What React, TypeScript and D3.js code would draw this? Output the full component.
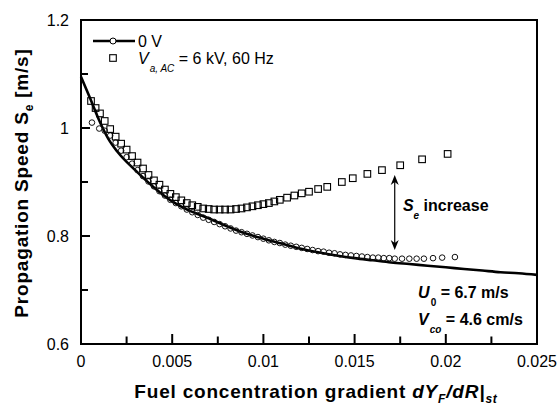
import React from "react";
import * as d3 from "d3";

// ---- data ----
const lineX = [0, 0.0005, 0.001, 0.0015, 0.002, 0.003, 0.004, 0.005, 0.006, 0.007, 0.008, 0.009, 0.01, 0.011, 0.012, 0.013, 0.014, 0.015, 0.016, 0.017, 0.018, 0.019, 0.02, 0.021, 0.022, 0.023, 0.024, 0.025];
const lineY = [1.095, 1.055, 1.014, 0.98, 0.956, 0.921, 0.89, 0.864, 0.846, 0.833, 0.818, 0.805, 0.795, 0.786, 0.777, 0.77, 0.764, 0.759, 0.755, 0.751, 0.748, 0.745, 0.742, 0.739, 0.736, 0.733, 0.731, 0.728];

const circleX = [0.0006, 0.001, 0.0013, 0.0016, 0.0019, 0.0022, 0.0025, 0.0028, 0.0031, 0.0034, 0.0037, 0.004, 0.0043, 0.0046, 0.0049, 0.0052, 0.0055, 0.0058, 0.0061, 0.0064, 0.0067, 0.007, 0.0073, 0.0076, 0.0079, 0.0082, 0.0085, 0.0088, 0.0091, 0.0094, 0.0097, 0.01, 0.0103, 0.0106, 0.0109, 0.0112, 0.0115, 0.0118, 0.0121, 0.0124, 0.0127, 0.013, 0.0133, 0.0136, 0.0139, 0.0142, 0.0145, 0.0148, 0.0151, 0.0154, 0.0157, 0.016, 0.0163, 0.0166, 0.0169, 0.0172, 0.0176, 0.018, 0.0184, 0.0188, 0.0193, 0.0198, 0.0205];
const circleY = [1.01, 0.999, 0.995, 0.986, 0.973, 0.958, 0.946, 0.934, 0.922, 0.911, 0.901, 0.892, 0.883, 0.875, 0.867, 0.861, 0.855, 0.849, 0.844, 0.839, 0.834, 0.83, 0.826, 0.822, 0.818, 0.814, 0.81, 0.807, 0.804, 0.801, 0.798, 0.795, 0.792, 0.789, 0.787, 0.784, 0.782, 0.78, 0.778, 0.776, 0.774, 0.772, 0.771, 0.769, 0.768, 0.766, 0.765, 0.764, 0.763, 0.762, 0.761, 0.76, 0.76, 0.759, 0.759, 0.758, 0.758, 0.758, 0.758, 0.758, 0.759, 0.76, 0.761];

const squareX = [0.00055, 0.0008, 0.00104, 0.0013, 0.0016, 0.0019, 0.0022, 0.0025, 0.0028, 0.0031, 0.0034, 0.0037, 0.004, 0.0043, 0.0046, 0.0049, 0.0052, 0.0055, 0.0058, 0.0061, 0.0064, 0.0067, 0.007, 0.0073, 0.0076, 0.0079, 0.0082, 0.0085, 0.0088, 0.0091, 0.0094, 0.0097, 0.01, 0.0103, 0.0106, 0.0109, 0.0113, 0.0117, 0.0121, 0.0125, 0.013, 0.0135, 0.0143, 0.0149, 0.0157, 0.0165, 0.0175, 0.0187, 0.0201];
const squareY = [1.05, 1.037, 1.027, 1.013, 0.998, 0.984, 0.971, 0.96, 0.948, 0.936, 0.925, 0.913, 0.903, 0.895, 0.886, 0.878, 0.872, 0.866, 0.861, 0.857, 0.854, 0.851, 0.85, 0.849, 0.849, 0.849, 0.849, 0.85, 0.851, 0.853, 0.855, 0.857, 0.859, 0.861, 0.864, 0.867, 0.871, 0.875, 0.879, 0.882, 0.887, 0.891, 0.9, 0.907, 0.915, 0.922, 0.931, 0.942, 0.952];

const xTicks = [0, 0.005, 0.01, 0.015, 0.02, 0.025];
const xTickLabels = ["0", "0.005", "0.01", "0.015", "0.02", "0.025"];
const xMinorTicks = [0.0025, 0.0075, 0.0125, 0.0175, 0.0225];
const yTicks = [0.6, 0.8, 1, 1.2];
const yTickLabels = ["0.6", "0.8", "1", "1.2"];
const yMinorTicks = [0.7, 0.9, 1.1];

const arrowX = 0.0172;
const arrowTop = 0.913;
const arrowBottom = 0.774;

const FONT = "'Liberation Sans', Arial, sans-serif";

export default function App() {
  const W = 558, H = 410;
  const left = 81, right = 537, top = 20, bottom = 344;
  const x = d3.scaleLinear().domain([0, 0.025]).range([left, right]);
  const y = d3.scaleLinear().domain([0.6, 1.2]).range([bottom, top]);

  const linePath = d3.line<number>()
    .x((_, i) => x(lineX[i]))
    .y((d) => y(d))
    .curve(d3.curveMonotoneX)(lineY) || "";

  const ax = x(arrowX);
  const aTop = y(arrowTop);
  const aBot = y(arrowBottom);
  const ah = 10, aw = 4;

  return (
    <svg width={W} height={H} style={{ position: "absolute", left: 0, top: 0, background: "#fff" }} fontFamily={FONT}>
      <rect x={0} y={0} width={W} height={H} fill="#fff" />
      {/* curve */}
      <path d={linePath} fill="none" stroke="#000" strokeWidth={2.6} />
      {/* circles */}
      {circleX.map((cx, i) => (
        <circle key={"c" + i} cx={x(cx)} cy={y(circleY[i])} r={2.8} fill="none" stroke="#111" strokeWidth={1} />
      ))}
      {/* squares */}
      {squareX.map((sx, i) => (
        <rect key={"s" + i} x={x(sx) - 3.3} y={y(squareY[i]) - 3.3} width={6.6} height={6.6} fill="none" stroke="#000" strokeWidth={1.1} />
      ))}
      {/* frame */}
      <rect x={left} y={top} width={right - left} height={bottom - top} fill="none" stroke="#000" strokeWidth={2} />
      {/* x ticks */}
      {xTicks.map((t) => (
        <line key={"xt" + t} x1={x(t)} x2={x(t)} y1={bottom} y2={bottom - 10} stroke="#000" strokeWidth={2} />
      ))}
      {xMinorTicks.map((t) => (
        <line key={"xm" + t} x1={x(t)} x2={x(t)} y1={bottom} y2={bottom - 7.5} stroke="#000" strokeWidth={2} />
      ))}
      {xTicks.map((t, i) => (
        <text key={"xl" + t} x={x(t)} y={bottom + 23} textAnchor="middle" fontSize={16}>{xTickLabels[i]}</text>
      ))}
      {/* y ticks */}
      {yTicks.map((t) => (
        <line key={"yt" + t} x1={left} x2={left + 9} y1={y(t)} y2={y(t)} stroke="#000" strokeWidth={2} />
      ))}
      {yMinorTicks.map((t) => (
        <line key={"ym" + t} x1={left} x2={left + 7} y1={y(t)} y2={y(t)} stroke="#000" strokeWidth={2} />
      ))}
      {yTicks.map((t, i) => (
        <text key={"yl" + t} x={left - 12} y={y(t) + 5.5} textAnchor="end" fontSize={16}>{yTickLabels[i]}</text>
      ))}
      {/* axis titles */}
      <text x={316} y={398} textAnchor="middle" fontSize={19} fontWeight="bold" letterSpacing={0.8}>
        Fuel concentration gradient <tspan fontStyle="italic">dY</tspan>
        <tspan fontStyle="italic" fontSize={12} dy={5}>F</tspan>
        <tspan fontStyle="italic" dy={-5}>/dR|</tspan>
        <tspan fontStyle="italic" fontSize={12} dy={5}>st</tspan>
      </text>
      <text transform={`translate(28,183) rotate(-90)`} textAnchor="middle" fontSize={19} fontWeight="bold" letterSpacing={0.8}>
        Propagation Speed S<tspan fontSize={12} dy={5}>e</tspan><tspan dy={-5}>  [m/s]</tspan>
      </text>
      {/* legend */}
      <line x1={left + 12} x2={left + 54} y1={top + 21} y2={top + 21} stroke="#000" strokeWidth={2.6} />
      <circle cx={left + 32} cy={top + 21} r={3} fill="#fff" stroke="#000" strokeWidth={1} />
      <text x={left + 57} y={top + 27} fontSize={16}>0 V</text>
      <rect x={left + 28.7} y={top + 34.7} width={6.6} height={6.6} fill="none" stroke="#000" strokeWidth={1.1} />
      <text x={left + 57} y={top + 44} fontSize={16}>
        <tspan fontStyle="italic">V</tspan>
        <tspan fontStyle="italic" fontSize={10} dy={8} dx={1}>a, AC</tspan>
        <tspan dy={-8}> = 6 kV, 60 Hz</tspan>
      </text>
      {/* arrow */}
      <line x1={ax} x2={ax} y1={aTop + 4} y2={aBot - 4} stroke="#000" strokeWidth={1.2} />
      <path d={`M${ax},${aTop} L${ax - aw},${aTop + ah} L${ax},${aTop + ah - 3} L${ax + aw},${aTop + ah} Z`} fill="#000" />
      <path d={`M${ax},${aBot} L${ax - aw},${aBot - ah} L${ax},${aBot - ah + 3} L${ax + aw},${aBot - ah} Z`} fill="#000" />
      {/* annotations */}
      <text x={x(0.01765)} y={y(0.846)} fontSize={16} fontWeight="bold">
        <tspan fontStyle="italic">S</tspan>
        <tspan fontStyle="italic" fontSize={10} dy={8}>e</tspan>
        <tspan dy={-8}> increase</tspan>
      </text>
      <text x={x(0.01848)} y={y(0.685)} fontSize={16} fontWeight="bold">
        <tspan fontStyle="italic">U</tspan>
        <tspan fontSize={10} dy={8} dx={1}>0</tspan>
        <tspan dy={-8}> = 6.7 m/s</tspan>
      </text>
      <text x={x(0.01848)} y={y(0.635)} fontSize={16} fontWeight="bold">
        <tspan fontStyle="italic">V</tspan>
        <tspan fontStyle="italic" fontSize={10} dy={8} dx={1}>co</tspan>
        <tspan dy={-8}> = 4.6 cm/s</tspan>
      </text>
    </svg>
  );
}
